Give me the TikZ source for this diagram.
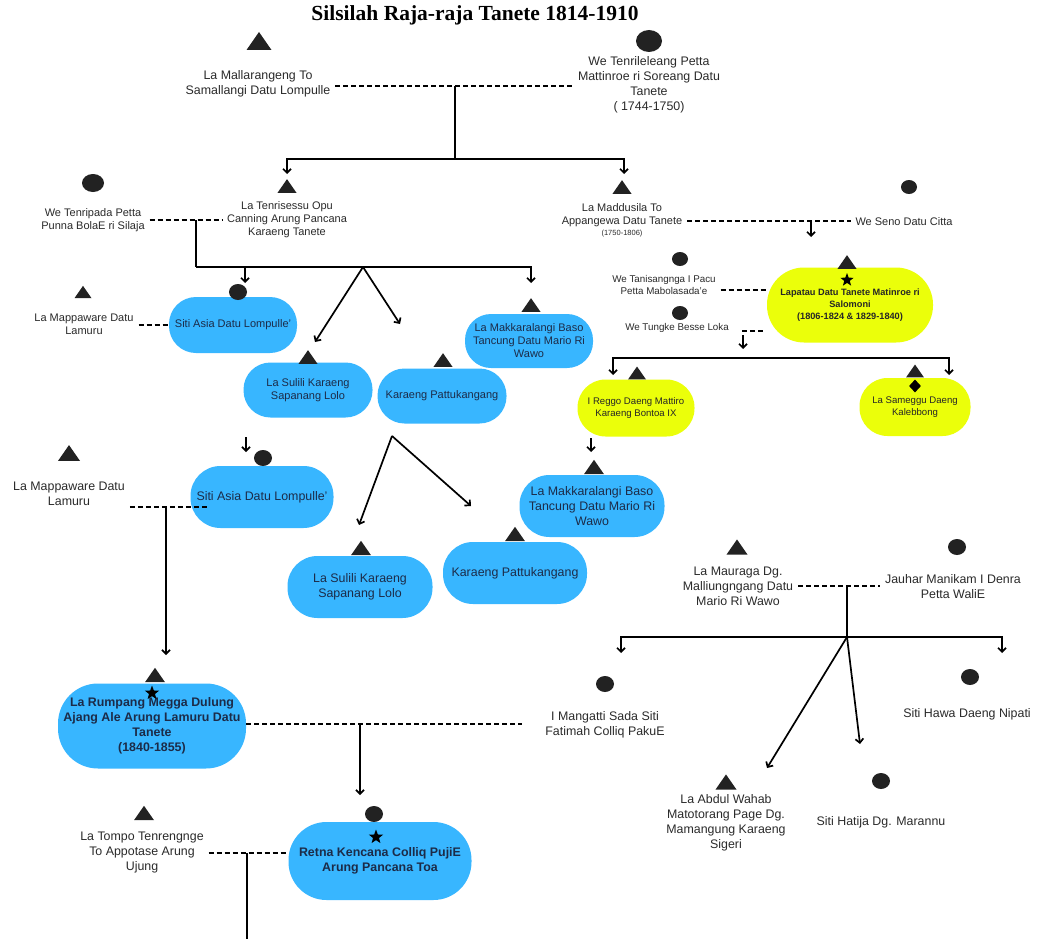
\documentclass[tikz,border=0pt]{standalone}
\usepackage{fontspec}
\setmainfont{Liberation Sans}
\newfontfamily\titlefont{Liberation Serif}
\usetikzlibrary{arrows.meta,shapes.geometric}
\definecolor{skyb}{HTML}{38B6FF}
\definecolor{limey}{HTML}{EBFF0A}
\definecolor{tgray}{HTML}{2A2A2A}
\definecolor{navyt}{HTML}{1C2B48}
\definecolor{symb}{HTML}{222222}
\newcommand{\symtri}[3]{\fill[symb] ({#1-#3/2},{#2+0.36*#3}) -- ({#1+#3/2},{#2+0.36*#3}) -- ({#1},{#2-0.36*#3}) -- cycle;}
\newcommand{\symdot}[4]{\fill[symb] (#1,#2) ellipse ({#3} and {#4});}
\begin{document}
\begin{tikzpicture}[x=1pt,y=-1pt,
 big/.style={align=center,text=tgray,inner sep=0pt,outer sep=5pt,font=\fontsize{12.4}{15}\selectfont},
 mid/.style={align=center,text=tgray,inner sep=0pt,outer sep=5pt,font=\fontsize{11}{13}\selectfont},
 sml/.style={align=center,text=tgray,inner sep=0pt,outer sep=5pt,font=\fontsize{9.8}{12}\selectfont},
 bbox/.style={fill=skyb,align=center,text=navyt,inner sep=0pt},
 ybox/.style={fill=limey,align=center,text=black!85,inner sep=0pt},
 ln/.style={draw=black,line width=1.7pt},
 arr/.style={ln,-{Straight Barb[length=4pt,width=8pt]}},
 arrtwo/.style={ln,{Straight Barb[length=4pt,width=8pt]}-{Straight Barb[length=4pt,width=8pt]}},
 dsh/.style={draw=black,line width=1.4pt,dash pattern=on 5pt off 3pt},
 starn/.style={star,star points=5,star point ratio=2.4,fill=black,inner sep=0pt,minimum size=#1},
]
\fill[white] (0,0) rectangle (1038,939);
\useasboundingbox (0,0) rectangle (1038,939);

\node[font=\titlefont\bfseries\fontsize{21.5}{24}\selectfont,text=black] (title) at (475,15) {Silsilah Raja-raja Tanete 1814-1910};

% ---- generation 1
\symtri{259}{41}{25}
\node[big] (mall) at (258,84) {La Mallarangeng To\\Samallangi Datu Lompulle};
\symdot{649}{41}{13}{11}
\node[big] (tenril) at (649,85) {We Tenrileleang Petta\\Mattinroe ri Soreang Datu\\Tanete\\( 1744-1750)};
\coordinate (j1) at (455,86);
\coordinate (j1b) at (455,159);
\coordinate (a1) at (287,174);
\coordinate (a2) at (624,174);
\draw[dsh] (mall.east |- j1) -- (tenril.west |- j1);
\draw[ln] (j1) -- (j1b);
\draw[arrtwo] (a1) -- (a1 |- j1b) -- (a2 |- j1b) -- (a2);

% ---- generation 2 left
\symtri{287}{186}{19}
\node[mid] (tenris) at (287,220) {La Tenrisessu Opu\\Canning Arung Pancana\\Karaeng Tanete};
\symdot{93}{183}{11}{9}
\node[mid] (tenrip) at (93,220) {We Tenripada Petta\\Punna BolaE ri Silaja};
\coordinate (j2) at (196,220);
\coordinate (j2b) at (196,267);
\coordinate (j2c) at (363,267);
\coordinate (a3) at (245,283);
\coordinate (a4) at (531,283);
\coordinate (a5) at (315,342);
\coordinate (a6) at (400,324);
\draw[dsh] (tenrip.east |- j2) -- (tenris.west |- j2);
\draw[ln] (j2) -- (j2b);
\draw[arr] (j2b) -| (a4);
\draw[arr] (a3 |- j2b) -- (a3);
\draw[arr] (j2c) -- (a5);
\draw[arr] (j2c) -- (a6);

\symtri{83}{292}{17}
\node[mid] (mapp1) at (84,324) {La Mappaware Datu\\Lamuru};
\node[bbox,minimum width=128,minimum height=56,rounded corners=27pt,font=\fontsize{11}{13}\selectfont] (siti1) at (233,325) {Siti Asia Datu Lompulle'};
\symdot{238}{292}{9}{8}
\draw[dsh] (mapp1.east |- siti1) -- (siti1.west);

\node[bbox,minimum width=129,minimum height=55,rounded corners=27pt,font=\fontsize{11}{13}\selectfont] (sul1) at (308,390) {La Sulili Karaeng\\Sapanang Lolo};
\symtri{308}{357}{19}
\node[bbox,minimum width=129,minimum height=55,rounded corners=27pt,font=\fontsize{11}{13}\selectfont] (kp1) at (442,396) {Karaeng Pattukangang};
\symtri{443}{360}{19}
\node[bbox,minimum width=128,minimum height=54,rounded corners=26pt,font=\fontsize{11}{13}\selectfont] (mak1) at (529,341) {La Makkaralangi Baso\\Tancung Datu Mario Ri\\Wawo};
\symtri{531}{305}{19}

% ---- generation 2 right
\symtri{622}{187}{19}
\node[mid] (maddu) at (622,215.5) {La Maddusila To\\Appangewa Datu Tanete};
\node[font=\fontsize{7.5}{9}\selectfont,text=tgray,inner sep=0pt] (madyr) at (622,234) {(1750-1806)};
\symdot{909}{187}{8}{7}
\node[mid] (seno) at (904,222) {We Seno Datu Citta};
\coordinate (j3) at (811,221);
\coordinate (a7) at (811,237);
\draw[dsh] (maddu.east |- j3) -- (seno.west |- j3);
\draw[arr] (j3) -- (a7);

\symdot{680}{259}{8}{7}
\node[sml] (tanis) at (664,285) {We Tanisangnga I Pacu\\Petta Mabolasada'e};
\symdot{680}{313}{8}{7}
\node[sml] (tungke) at (677,328) {We Tungke Besse Loka};
\node[ybox,minimum width=166,minimum height=75,rounded corners=37pt,font=\bfseries\fontsize{9.2}{12}\selectfont] (lapa) at (850,305) {Lapatau Datu Tanete Matinroe ri\\Salomoni\\(1806-1824 \& 1829-1840)};
\symtri{847}{262}{19}
\node[starn=14] (st1) at (847,280) {};
\coordinate (y290) at (800,290);
\coordinate (tk) at (742,331);
\coordinate (tke) at (765,331);
\draw[dsh] (tanis.east |- y290) -- (lapa.west |- y290);
\draw[dsh] (tk) -- (tke);
\coordinate (a8s) at (743,335);
\coordinate (a8) at (743,349);
\draw[arr] (a8s) -- (a8);
\coordinate (h1) at (613,358);
\coordinate (h2) at (949,358);
\coordinate (a9) at (613,375);
\coordinate (a10) at (949,375);
\draw[arrtwo] (a9) -- (h1) -- (h2) -- (a10);

\node[ybox,minimum width=117,minimum height=57,rounded corners=28pt,font=\fontsize{9.6}{12}\selectfont] (reggo) at (636,408) {I Reggo Daeng Mattiro\\Karaeng Bontoa IX};
\symtri{637}{373}{18}
\node[ybox,minimum width=111,minimum height=58,rounded corners=28pt,font=\fontsize{9.6}{12}\selectfont] (samg) at (915,407) {La Sameggu Daeng\\Kalebbong};
\symtri{915}{371}{18}
\node[diamond,fill=black,inner sep=0pt,minimum width=12,minimum height=13] (dia) at (915,386) {};
\coordinate (a11s) at (591,438);
\coordinate (a11) at (591,452);
\draw[arr] (a11s) -- (a11);
\node[bbox,minimum width=145,minimum height=62,rounded corners=30pt,font=\fontsize{12.4}{15}\selectfont] (mak2) at (592,506) {La Makkaralangi Baso\\Tancung Datu Mario Ri\\Wawo};
\symtri{594}{467}{20}

% ---- left block 2
\coordinate (a12s) at (246,437);
\coordinate (a12) at (246,452);
\draw[arr] (a12s) -- (a12);
\node[bbox,minimum width=143,minimum height=62,rounded corners=30pt,font=\fontsize{12.4}{15}\selectfont] (siti2) at (262,497) {Siti Asia Datu Lompulle'};
\symdot{263}{458}{9}{8}
\symtri{69}{453}{22}
\node[big] (mapp2) at (69,494) {La Mappaware Datu\\Lamuru};
\coordinate (j4) at (166,507);
\coordinate (j4e) at (207,507);
\coordinate (a13) at (166,655);
\draw[dsh] (mapp2.east |- j4) -- (j4e);
\draw[arr] (j4) -- (a13);

\coordinate (j5s) at (392,436);
\coordinate (a14) at (359,525);
\coordinate (a15) at (471,506);
\draw[arr] (j5s) -- (a14);
\draw[arr] (j5s) -- (a15);
\node[bbox,minimum width=145,minimum height=62,rounded corners=30pt,font=\fontsize{12.4}{15}\selectfont] (sul2) at (360,587) {La Sulili Karaeng\\Sapanang Lolo};
\symtri{361}{548}{20}
\node[bbox,minimum width=144,minimum height=62,rounded corners=30pt,font=\fontsize{12.4}{15}\selectfont] (kp2) at (515,573) {Karaeng Pattukangang};
\symtri{515}{534}{20}

% ---- La Rumpang
\node[bbox,minimum width=188,minimum height=85,rounded corners=40pt,font=\bfseries\fontsize{12.4}{15}\selectfont] (rump) at (152,726) {La Rumpang Megga Dulung\\Ajang Ale Arung Lamuru Datu\\Tanete\\(1840-1855)};
\symtri{155}{675}{20}
\node[starn=15] (st2) at (152,693) {};
\coordinate (j6) at (360,724);
\coordinate (j6e) at (522,724);
\coordinate (a16) at (360,795);
\draw[dsh] (rump.east |- j6) -- (j6e);
\draw[arr] (j6) -- (a16);

\node[bbox,minimum width=183,minimum height=78,rounded corners=38pt,font=\bfseries\fontsize{12.4}{15}\selectfont] (retna) at (380,861) {Retna Kencana Colliq PujiE\\Arung Pancana Toa};
\symdot{374}{814}{9}{8}
\node[starn=15] (st3) at (376,837) {};
\symtri{144}{813}{20}
\node[big] (tompo) at (142,853) {La Tompo Tenrengnge\\To Appotase Arung\\Ujung};
\coordinate (j7) at (247,853);
\coordinate (j7e) at (247,939);
\draw[dsh] (tompo.east |- j7) -- (retna.west |- j7);
\draw[ln] (j7) -- (j7e);

% ---- bottom right
\symtri{737}{547}{21}
\node[big] (maur) at (738,586) {La Mauraga Dg.\\Malliungngang Datu\\Mario Ri Wawo};
\symdot{957}{547}{9}{8}
\node[big] (jauh) at (953,586.5) {Jauhar Manikam I Denra\\Petta WaliE};
\coordinate (j8) at (847,586);
\coordinate (j8b) at (847,637);
\coordinate (a17) at (621,653);
\coordinate (a18) at (1002,653);
\coordinate (a19) at (767,768);
\coordinate (a20) at (860,744);
\draw[dsh] (maur.east |- j8) -- (jauh.west |- j8);
\draw[ln] (j8) -- (j8b);
\draw[arrtwo] (a17) -- (a17 |- j8b) -- (a18 |- j8b) -- (a18);
\draw[arr] (j8b) -- (a19);
\draw[arr] (j8b) -- (a20);

\symdot{605}{684}{9}{8}
\node[big] (mang) at (605,724.5) {I Mangatti Sada Siti\\Fatimah Colliq PakuE};
\symdot{970}{677}{9}{8}
\node[big] (hawa) at (967,714) {Siti Hawa Daeng Nipati};
\symtri{726}{782}{21}
\node[big] (abdul) at (726,822.5) {La Abdul Wahab\\Matotorang Page Dg.\\Mamangung Karaeng\\Sigeri};
\symdot{881}{781}{9}{8}
\node[big] (hatija) at (881,822) {Siti Hatija Dg. Marannu};
\end{tikzpicture}
\end{document}
